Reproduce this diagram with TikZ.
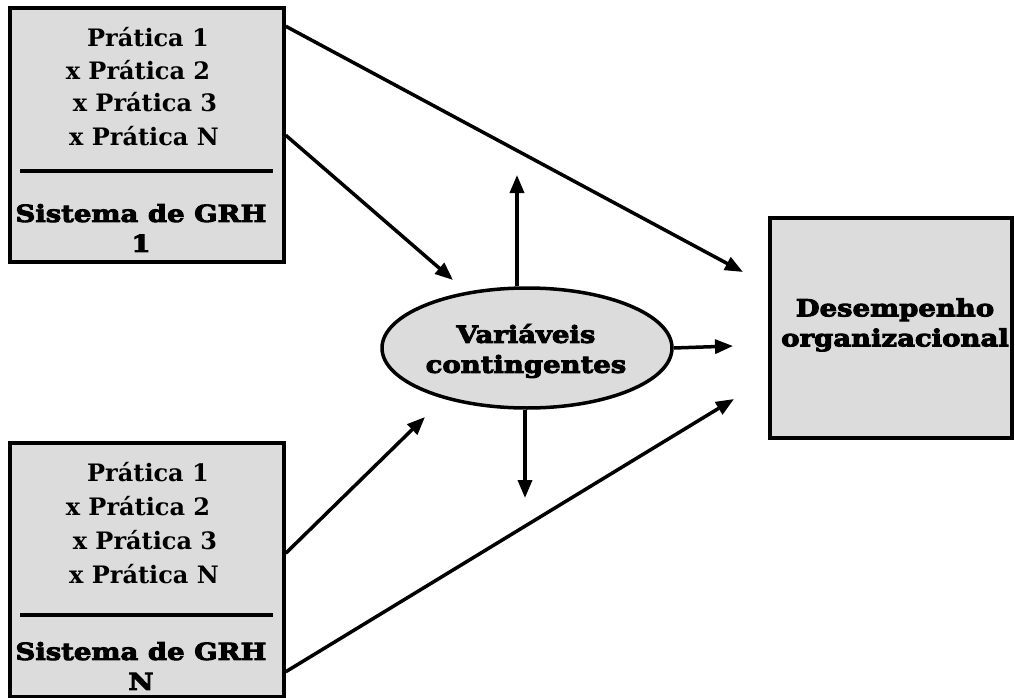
\documentclass[tikz,border=0pt]{standalone}
\usepackage{fontspec}
\setmainfont{DejaVu Serif}
\newfontfamily\heavyfont{DejaVu Serif Bold}[FakeStretch=1.17,FakeBold=4]
\usetikzlibrary{arrows.meta,shapes.geometric}
\definecolor{boxgray}{HTML}{DCDCDC}
\begin{document}
\begin{tikzpicture}[x=1pt,y=-1pt,
  panel/.style={draw=black,line width=3.5pt,fill=boxgray,rectangle,inner sep=0pt},
  practice/.style={font=\bfseries\fontsize{24}{24}\selectfont,inner sep=0pt,anchor=center},
  heavy/.style={font=\heavyfont\fontsize{23.5}{30}\selectfont,inner sep=0pt,align=center},
  rule/.style={line width=3.5pt},
  arr/.style={line width=3.5pt,-{Triangle[length=18pt,width=14pt]}}]
\useasboundingbox (0,0) rectangle (1015,698);

% HRM system 1
\node[panel,minimum width=274pt,minimum height=254pt] (grh1) at (147,135) {};
\node[practice] (p11) at (148,37) {Prática 1};
\node[practice] (p12) at (138,70) {x Prática 2};
\node[practice] (p13) at (145,102) {x Prática 3};
\node[practice] (p14) at (144,136) {x Prática N};
\draw[rule] (20,171) -- (273,171);
\node[heavy] (s1) at (141,228) {Sistema de GRH\\1};

% HRM system N
\node[panel,minimum width=274pt,minimum height=254pt] (grhn) at (147,570) {};
\node[practice] (pn1) at (148,472) {Prática 1};
\node[practice] (pn2) at (138,506) {x Prática 2};
\node[practice] (pn3) at (145,540) {x Prática 3};
\node[practice] (pn4) at (144,574) {x Prática N};
\draw[rule] (20,615) -- (273,615);
\node[heavy] (sn) at (141,666) {Sistema de GRH\\N};

% contingency variables
\node[draw=black,line width=3.5pt,fill=boxgray,ellipse,minimum width=290pt,minimum height=120pt,inner sep=0pt] (ell) at (527,348) {};
\node[heavy] (ellt) at (526,351) {Variáveis\\contingentes};

% organisational performance
\node[panel,minimum width=242pt,minimum height=220pt] (perf) at (891,328) {};
\node[heavy] (perft) at (895,325) {Desempenho\\organizacional};

% arrow end points
\coordinate (t1) at (743,272);
\coordinate (t2) at (453,280);
\coordinate (t3) at (733,346);
\coordinate (t4) at (425,417);
\coordinate (t5) at (734,399);
\coordinate (tup) at (517,175);
\coordinate (tdn) at (525,498);

\draw[arr] ([yshift=-20pt]grh1.north east) -- (t1);
\draw[arr] ([yshift=-129pt]grh1.north east) -- (t2);
\draw[arr] ([yshift=-112pt]grhn.north east) -- (t4);
\draw[arr] ([yshift=27pt]grhn.south east) -- (t5);
\draw[arr] (ell.east) -- (t3);
\draw[arr] ([xshift=-10pt]ell.north) -- (tup);
\draw[arr] ([xshift=-2pt]ell.south) -- (tdn);
\end{tikzpicture}
\end{document}
